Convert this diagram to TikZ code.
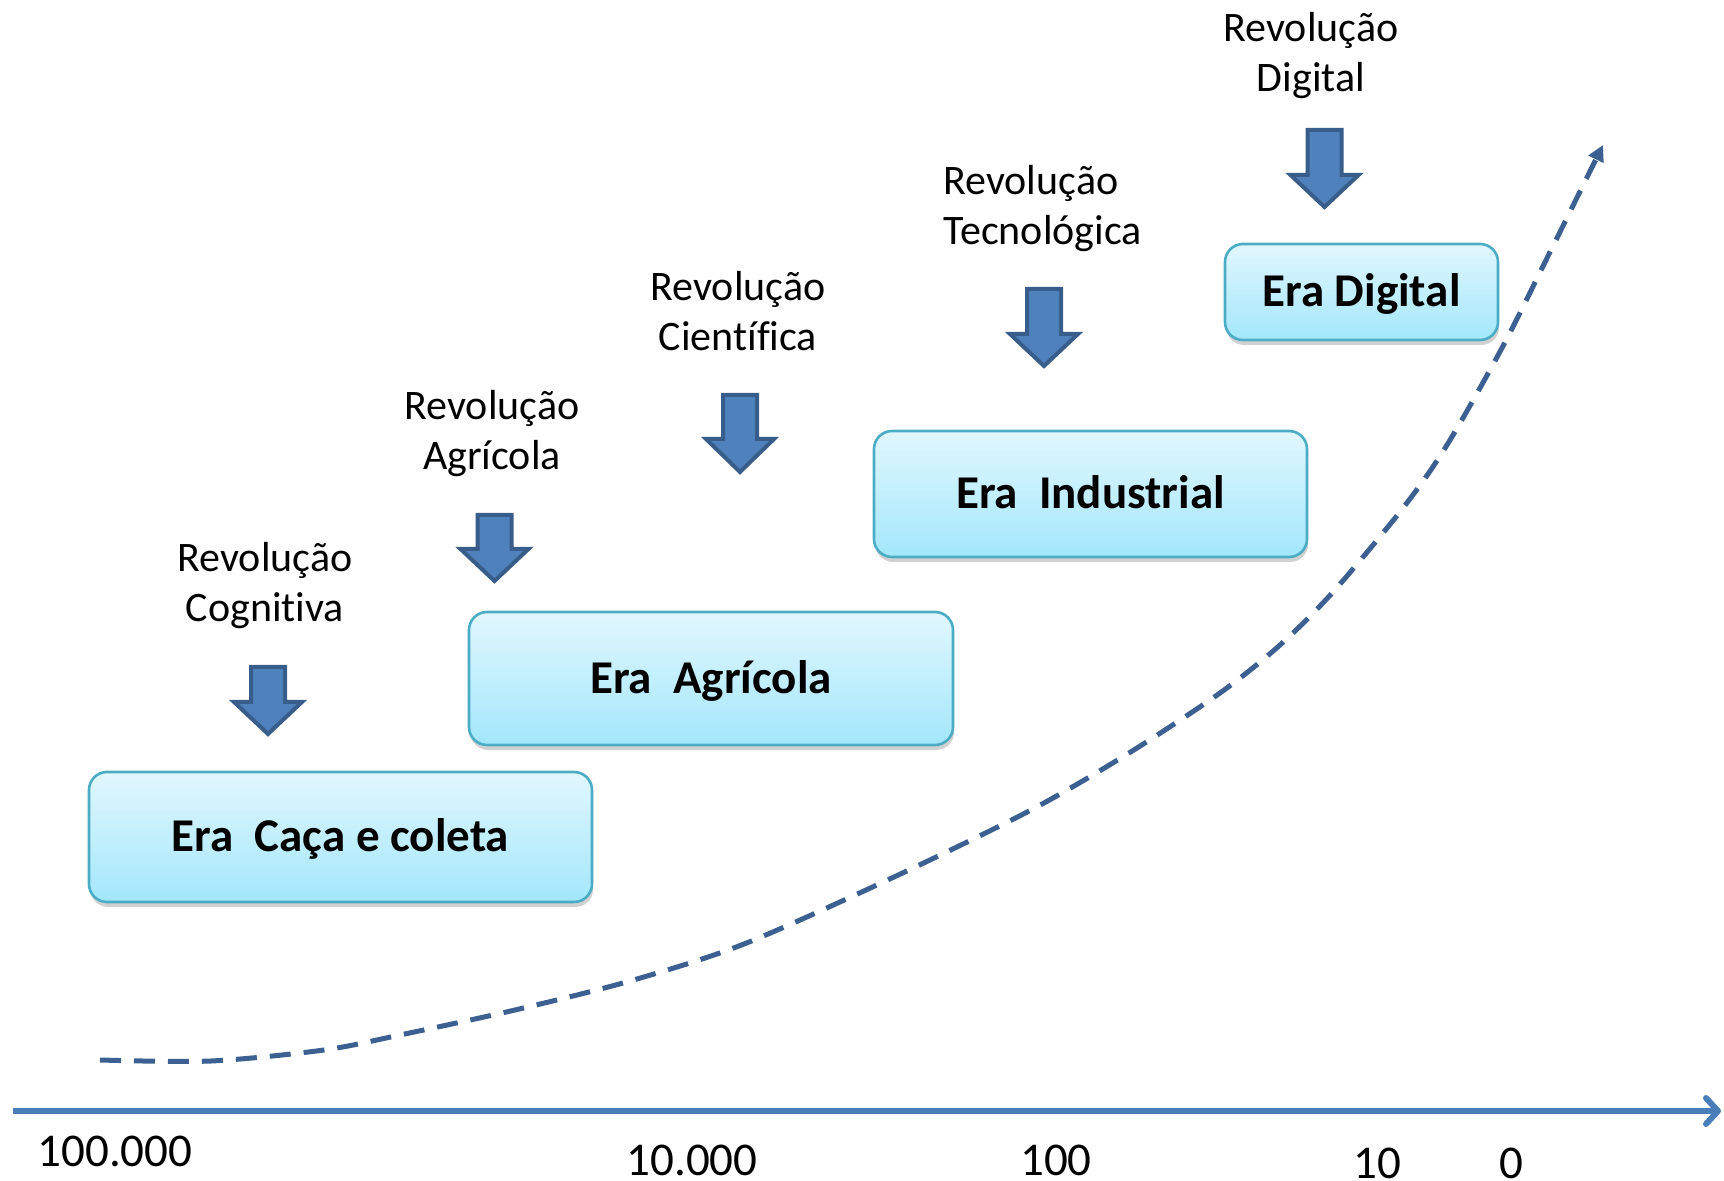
\documentclass[tikz,border=0pt]{standalone}
\usepackage{fontspec}
\setmainfont{Carlito}[Ligatures=NoCommon]
\usetikzlibrary{arrows.meta,shadows}
\definecolor{arrfill}{HTML}{4F81BD}
\definecolor{arrline}{HTML}{385D8A}
\definecolor{axisblue}{HTML}{4A7EBB}
\definecolor{curveblue}{HTML}{3B6091}
\definecolor{boxtop}{HTML}{E1F7FE}
\definecolor{boxbot}{HTML}{A3E7FB}
\definecolor{boxline}{HTML}{4BACC6}
\tikzset{
  erabox/.style={rectangle, rounded corners=9bp, draw=boxline, line width=1.3bp,
    top color=boxtop, bottom color=boxbot, inner sep=0pt,
    font=\fontsize{23.5bp}{28bp}\selectfont\bfseries, text height=15bp, text depth=0pt,
    drop shadow={shadow xshift=0.6bp, shadow yshift=-2.5bp, opacity=0.3, fill=black!60}},
  revlabel/.style={font=\fontsize{21bp}{25bp}\selectfont, inner sep=0pt, align=center, anchor=base},
  yearlabel/.style={font=\fontsize{23.5bp}{28bp}\selectfont, inner sep=0pt, anchor=base},
  blockarrow/.style={fill=arrfill, draw=arrline, line width=2bp, line join=miter},
  axisline/.style={draw=axisblue, line width=3bp, -{Straight Barb[length=6bp,width=13bp,round]}},
  curveline/.style={draw=curveblue, line width=2.5bp, dash pattern=on 10.5bp off 6.5bp,
    -{Triangle[length=8bp,width=8bp]}},
  pics/downarr/.style args={#1/#2}{code={
    \path[blockarrow] (-17,2) -- (17,2) -- (17,#1) -- (34,#1) -- (0,#2-3) -- (-34,#1) -- (-17,#1) -- cycle;
  }},
}
\begin{document}
\begin{tikzpicture}[x=0.5bp,y=-0.5bp]
\useasboundingbox (0,0) rectangle (1724,1181);

% time axis
\coordinate (axstart) at (13,1111);
\coordinate (axend) at (1721,1111);
\draw[axisline] (axstart) -- (axend);

% growth curve
\draw[curveline] plot[smooth, tension=0.5] coordinates {(100,1060) (211,1061) (324,1050) (400,1035) (515,1010) (630,981) (744,944) (894,877) (1031,810) (1129,753) (1220,693) (1280,645) (1333,592) (1403,508) (1447,445) (1503,346) (1553,246) (1603,145)};

% eras
\node[erabox, minimum width=251.5bp, minimum height=65bp] (caca) at (340.5,837) {Era\ \ Caça e coleta};
\node[erabox, minimum width=242bp, minimum height=66.5bp] (agri) at (711,678.5) {Era\ \ Agrícola};
\node[erabox, minimum width=216.5bp, minimum height=63bp] (indu) at (1090.5,494) {Era\ \ Industrial};
\node[erabox, minimum width=136.5bp, minimum height=48bp] (digi) at (1361.5,292) {Era Digital};

% revolutions (anchor = baseline of the last line)
\node[revlabel] (rcog) at (265,621.7) {Revolução\\Cognitiva};
\node[revlabel] (ragr) at (492,470) {Revolução\\Agrícola};
\node[revlabel] (rcie) at (738,350.7) {Revolução\\Científica};
\node[revlabel, align=left, anchor=base west] (rtec) at (943,245) {Revolução\\Tecnológica};
\node[revlabel] (rdig) at (1311,91.7) {Revolução\\Digital};

% block arrows
\pic at (268,665) {downarr=37/72};
\pic at (494.5,513) {downarr=36/71};
\pic at (740,393) {downarr=46/82};
\pic at (1044,287) {downarr=47/82};
\pic at (1324.5,128) {downarr=47/82};

% years
\node[yearlabel] (y1) at (115,1166) {100.000};
\node[yearlabel] (y2) at (692,1175) {10.000};
\node[yearlabel] (y3) at (1056,1175) {100};
\node[yearlabel] (y4) at (1377,1178) {10};
\node[yearlabel] (y5) at (1511,1178) {0};
\end{tikzpicture}
\end{document}
